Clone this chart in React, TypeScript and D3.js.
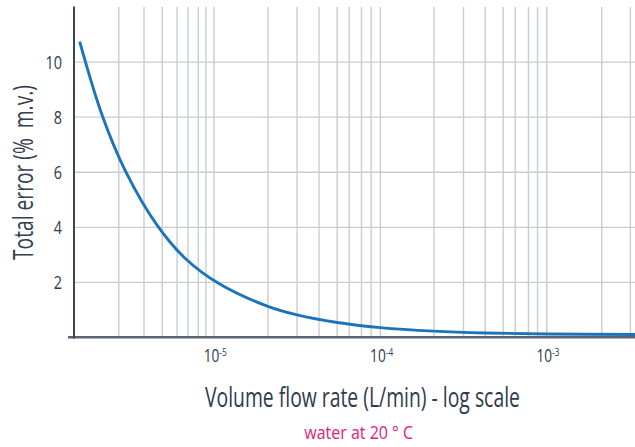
import React, { useLayoutEffect, useRef, useState } from "react";
import * as d3 from "d3";

const flowRates = [1.56e-6, 2.12e-6, 2.93e-6, 4.55e-6, 6.73e-6, 1.07e-5, 2.11e-5, 3.16e-5, 5.5e-5, 1e-4, 2.1e-4, 4.27e-4, 1e-3, 3.39e-3];
const totalError = [10.74, 8.1, 6.06, 4.08, 2.87, 1.96, 1.13, 0.82, 0.545, 0.36, 0.23, 0.163, 0.127, 0.11];

const yTicks = [2, 4, 6, 8, 10];
const xTickExponents = [-5, -4, -3];
const xGridValues = [
  2.68e-6, 3.8e-6, 4.89e-6, 6.0e-6, 6.98e-6, 8.05e-6, 8.95e-6, 1e-5,
  2.11e-5, 3.16e-5, 4.28e-5, 5.5e-5, 6.5e-5, 7.7e-5, 8.8e-5, 1e-4,
  2.1e-4, 3.16e-4, 4.27e-4, 5.47e-4, 6.46e-4, 7.76e-4, 8.8e-4, 1e-3,
  2.14e-3, 3.18e-3,
];

const xTitle = "Volume flow rate (L/min) - log scale";
const yTitle = "Total error (%  m.v.)";
const subTitle = "water at 20 ° C";

const font = "'Open Sans', 'Noto Sans', sans-serif";

function FitText(props: {
  x: number;
  y: number;
  width: number;
  size: number;
  fill: string;
  anchor?: string;
  rotate?: number;
  children: React.ReactNode;
}) {
  const ref = useRef<SVGTextElement>(null);
  const [sx, setSx] = useState(1);
  useLayoutEffect(() => {
    if (ref.current) {
      const w = ref.current.getComputedTextLength();
      if (w > 0) setSx(props.width / w);
    }
  }, [props.width]);
  const rot = props.rotate ? ` rotate(${props.rotate})` : "";
  return (
    <text
      ref={ref}
      transform={`translate(${props.x}, ${props.y})${rot} scale(${sx}, 1)`}
      textAnchor={props.anchor || "start"}
      fontFamily={font}
      fontSize={props.size}
      fill={props.fill}
      style={{ whiteSpace: "pre" }}
    >
      {props.children}
    </text>
  );
}

export default function App() {
  const W = 635;
  const H = 447;
  const left = 74;
  const right = 635;
  const top = 7;
  const bottom = 337.5;

  const x = d3.scaleLog().domain([1.442e-6, 3.39e-3]).range([left, right]);
  const y = d3.scaleLinear().domain([0, 12]).range([bottom, top]);

  const pts = flowRates.map((f, i) => [x(f), y(totalError[i])] as [number, number]);
  const line = d3.line().curve(d3.curveCatmullRom.alpha(0.5))(pts) || "";

  const grid = "#c9cdd3";
  const textCol = "#2f3b4c";

  return (
    <svg
      width={W}
      height={H}
      style={{ position: "absolute", left: 0, top: 0, background: "#fff" }}
    >
      {xGridValues.map((v, i) => (
        <line key={"vg" + i} x1={x(v)} x2={x(v)} y1={top} y2={bottom} stroke={grid} strokeWidth={1.4} />
      ))}
      {yTicks.map((t) => (
        <line key={"hg" + t} x1={left} x2={right} y1={y(t)} y2={y(t)} stroke={grid} strokeWidth={1.4} />
      ))}
      <path d={line} fill="none" stroke="#1b74bb" strokeWidth={2.9} />
      <line x1={68} x2={right} y1={337.3} y2={337.3} stroke="#5b6573" strokeWidth={2.5} />
      <line x1={left} x2={left} y1={top - 0.5} y2={338.5} stroke="#3a4656" strokeWidth={2} />

      {yTicks.map((t) => (
        <text
          key={"yt" + t}
          transform={`translate(62, ${y(t) + 6.5}) scale(0.8, 1)`}
          textAnchor="end"
          fontFamily={font}
          fontSize={18}
          fill={textCol}
        >
          {t}
        </text>
      ))}
      {xTickExponents.map((e) => (
        <text
          key={"xt" + e}
          transform={`translate(${x(Math.pow(10, e)) - 10.3}, 362.3) scale(0.76, 1)`}
          fontFamily={font}
          fontSize={18}
          fill={textCol}
        >
          10
          <tspan fontSize={11} dy={-6.2}>
            {"-" + Math.abs(e)}
          </tspan>
        </text>
      ))}

      <FitText x={205} y={406.7} width={315} size={28} fill={textCol}>
        {xTitle}
      </FitText>
      <FitText x={304.3} y={438.7} width={109} size={19} fill="#e4197e">
        {subTitle}
      </FitText>
      <FitText x={33} y={172.5} width={175} size={27.5} fill="#34404f" anchor="middle" rotate={-90}>
        {yTitle}
      </FitText>
    </svg>
  );
}
